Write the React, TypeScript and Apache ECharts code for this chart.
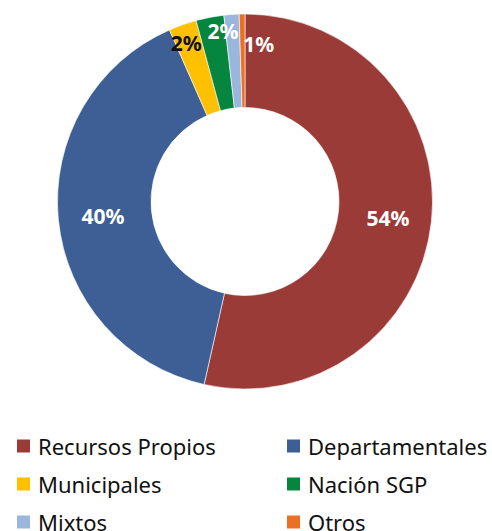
import React, { useEffect, useRef } from "react";
import * as echarts from "echarts";

const categories = ["Recursos Propios", "Departamentales", "Municipales", "Nación SGP", "Mixtos", "Otros"];
const values = [53.5, 39.9, 2.4, 2.4, 1.3, 0.5];
const labelTexts = ["54%", "40%", "2%", "2%", "1%", ""];
const colors = ["#9B3B38", "#3E5F96", "#FFC000", "#05853D", "#9BB6DC", "#EC7024"];
const labelColors = ["#fff", "#fff", "#111", "#fff", "#fff", "#fff"];
const labelOffsets: [number, number][] = [[0, 1], [1, 1], [-11, -23], [5, -29], [24, -14], [0, 0]];

const leftLegend = ["Recursos Propios", "Municipales", "Mixtos"];
const rightLegend = ["Departamentales", "Nación SGP", "Otros"];

export default function App() {
  const ref = useRef<HTMLDivElement>(null);
  useEffect(() => {
    if (!ref.current) return;
    const chart = echarts.init(ref.current, undefined, { renderer: "svg" });
    const font = "'Noto Sans', 'Open Sans', sans-serif";
    const legendBase = {
      orient: "vertical" as const,
      top: 434,
      height: 200,
      padding: 0,
      itemWidth: 15,
      itemHeight: 15,
      itemGap: 14,
      icon: "rect",
      selectedMode: false,
      textStyle: { fontFamily: font, fontSize: 22, color: "#111", lineHeight: 24, padding: [0, 0, 0, 2] },
    };
    chart.setOption({
      animation: false,
      color: colors,
      legend: [
        { ...legendBase, left: 15, data: leftLegend },
        { ...legendBase, left: 285, data: rightLegend },
      ],
      series: [
        {
          type: "pie",
          center: [245, 201.5],
          radius: [94, 187.5],
          startAngle: 90,
          clockwise: true,
          avoidLabelOverlap: false,
          itemStyle: { borderColor: "#fff", borderWidth: 0.6 },
          label: {
            show: true,
            position: "inside",
            fontFamily: font,
            fontSize: 21,
            fontWeight: "bold",
          },
          labelLine: { show: false },
          emphasis: { disabled: true },
          data: categories.map((name, i) => ({
            name,
            value: values[i],
            label: {
              show: labelTexts[i] !== "",
              formatter: labelTexts[i],
              color: labelColors[i],
              offset: labelOffsets[i],
            },
          })),
        },
      ],
    });
    return () => chart.dispose();
  }, []);
  return (
    <div
      ref={ref}
      style={{ position: "fixed", left: 0, top: 0, width: 492, height: 531, background: "#fff" }}
    />
  );
}
